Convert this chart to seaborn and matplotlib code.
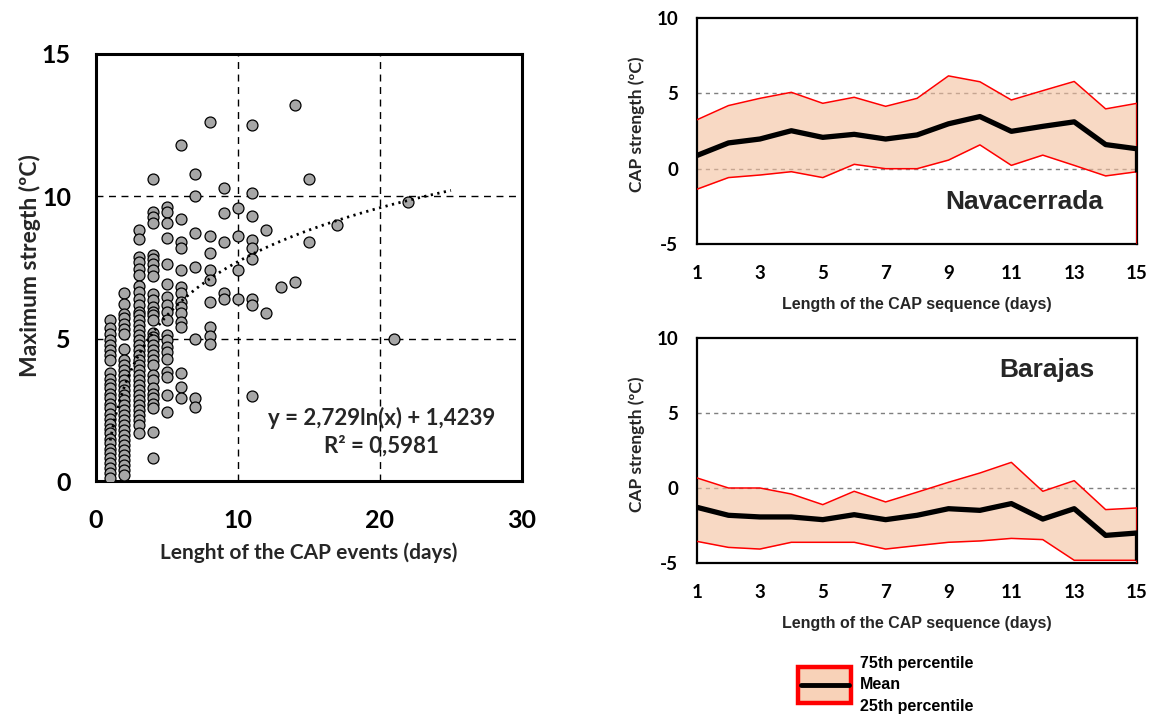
import numpy as np
import pandas as pd
import matplotlib
matplotlib.use("Agg")
import matplotlib.pyplot as plt
import seaborn as sns
from matplotlib.patches import Rectangle
from matplotlib.lines import Line2D

# ---------------- data ----------------
# Left panel: length of CAP events (days) and maximum strength (ºC)
event_lengths = [1, 2, 3, 4, 5, 6, 7, 8, 9, 10, 11, 12, 13, 14, 15, 17, 21, 22]
strength_d1 = [5.65, 5.36, 5.15, 4.95, 4.77, 4.6, 4.42, 4.25, 3.78, 3.6, 3.42, 3.25, 3.07, 2.9, 2.72,
               2.55, 2.37, 2.19, 2.02, 1.84, 1.67, 1.49, 1.32, 1.14, 0.97, 0.8, 0.62, 0.44, 0.27, 0.09]
strength_d2 = [6.61, 6.23, 5.88, 5.71, 5.53, 5.33, 5.18, 4.65, 4.25, 4.07, 3.89, 3.72, 3.54, 3.37, 3.19,
               3.02, 2.84, 2.67, 2.49, 2.32, 2.14, 1.96, 1.79, 1.61, 1.44, 1.26, 1.09, 0.91, 0.74, 0.56,
               0.39, 0.21]
strength_d3 = [8.83, 8.51, 7.87, 7.7, 7.46, 7.23, 6.85, 6.64, 6.41, 6.18, 5.94, 5.82, 5.65, 5.47, 5.3,
               5.12, 4.95, 4.77, 4.6, 4.42, 4.25, 4.07, 3.89, 3.72, 3.54, 3.37, 3.19, 3.02, 2.84, 2.67,
               2.49, 2.32, 2.14, 1.96, 1.67]
strength_d4 = [10.62, 9.45, 9.27, 9.06, 7.93, 7.81, 7.61, 7.4, 7.19, 6.56, 6.35, 6.12, 5.94, 5.82, 5.65,
               5.2, 5.07, 4.95, 4.77, 4.6, 4.42, 4.25, 4.07, 3.72, 3.54, 3.25, 3.07, 2.9, 2.72, 2.55,
               1.73, 0.82]
strength_d5 = [9.62, 9.45, 9.06, 8.54, 7.64, 6.91, 6.47, 6.18, 5.95, 5.65, 5.12, 4.95, 4.72, 4.54, 4.3,
               3.84, 3.66, 3.02, 2.43]
strength_d6 = [11.8, 9.2, 8.4, 8.2, 7.4, 6.8, 6.6, 6.3, 6.1, 5.9, 5.6, 5.4, 3.8, 3.3, 2.9]
strength_d7 = [10.8, 10.0, 8.7, 7.5, 5.0, 2.9, 2.6]
strength_d8 = [12.6, 8.6, 8.0, 7.4, 7.05, 6.3, 5.4, 5.1, 4.8]
strength_d9 = [10.3, 9.4, 8.4, 6.6, 6.4]
strength_d10 = [9.6, 8.6, 7.4, 6.4]
strength_d11 = [12.5, 10.1, 9.3, 8.45, 8.2, 7.8, 6.4, 6.2, 3.0]
strength_d12 = [8.8, 5.9]
strength_d13 = [6.8]
strength_d14 = [13.2, 7.0]
strength_d15 = [10.6, 8.4]
strength_d17 = [9.0]
strength_d21 = [5.0]
strength_d22 = [9.8]
strength_by_length = [strength_d1, strength_d2, strength_d3, strength_d4, strength_d5, strength_d6,
                      strength_d7, strength_d8, strength_d9, strength_d10, strength_d11, strength_d12,
                      strength_d13, strength_d14, strength_d15, strength_d17, strength_d21, strength_d22]

# logarithmic trend shown on the chart
trend_slope = 2.729
trend_intercept = 1.4239
trend_range = [1, 25]

# Right panels: CAP sequence statistics
days = list(range(1, 16))
nav_p75 = [3.25, 4.19, 4.67, 5.07, 4.34, 4.74, 4.14, 4.67, 6.16, 5.77, 4.56, 5.18, 5.79, 3.97, 4.34]
nav_mean = [0.88, 1.71, 1.97, 2.52, 2.08, 2.28, 1.97, 2.24, 2.98, 3.46, 2.48, 2.81, 3.11, 1.60, 1.32]
nav_p25 = [-1.36, -0.59, -0.42, -0.20, -0.59, 0.29, 0.0, 0.0, 0.57, 1.58, 0.22, 0.90, 0.22, -0.48, -0.20]
bar_p75 = [0.67, 0.0, 0.0, -0.40, -1.11, -0.22, -0.93, -0.28, 0.38, 1.0, 1.71, -0.22, 0.49, -1.44, -1.33]
bar_mean = [-1.29, -1.82, -1.93, -1.93, -2.11, -1.78, -2.11, -1.82, -1.38, -1.49, -1.04, -2.07, -1.38, -3.16, -3.0]
bar_p25 = [-3.56, -3.96, -4.07, -3.62, -3.62, -3.62, -4.07, -3.84, -3.62, -3.53, -3.36, -3.44, -4.82, -4.82, -4.82]

legend_labels = ["75th percentile", "Mean", "25th percentile"]

# ---------------- style ----------------
sns.set_theme(style="white")
plt.rcParams['font.family'] = ['Lato', 'DejaVu Sans']
plt.rcParams['axes.unicode_minus'] = False
ARIAL = ['Liberation Sans', 'DejaVu Sans']
BAND = '#F4C09E'

fig = plt.figure(figsize=(11.51, 7.16), dpi=100)

# ---------------- left scatter ----------------
ax0 = fig.add_axes([0.0834, 0.3282, 0.3701, 0.5964])
xs, ys = [], []
for L, vals in zip(event_lengths, strength_by_length):
    xs += [L] * len(vals)
    ys += vals
df = pd.DataFrame({'length': xs, 'strength': ys})
for v in (10, 20):
    ax0.axvline(v, color='black', lw=1.0, ls=(0, (5, 4)), zorder=1)
for v in (5, 10):
    ax0.axhline(v, color='black', lw=1.0, ls=(0, (5, 4)), zorder=1)
sns.scatterplot(data=df, x='length', y='strength', ax=ax0, s=62, color='#A6A6A6',
                edgecolor='black', linewidth=0.9, zorder=3, legend=False)
tx = np.linspace(trend_range[0], trend_range[1], 300)
ty = trend_slope * np.log(tx) + trend_intercept
sns.lineplot(x=tx, y=ty, ax=ax0, color='black', lw=2.0, linestyle=(0, (0.8, 1.6)),
             zorder=4, sort=False)
ax0.set_xlim(0, 30)
ax0.set_ylim(0, 15)
ax0.set_xticks([0, 10, 20, 30])
ax0.set_yticks([0, 5, 10, 15])
for s in ax0.spines.values():
    s.set_visible(True)
    s.set_color('black')
    s.set_linewidth(2.2)
ax0.tick_params(axis='y', direction='inout', length=12, width=2, labelsize=18, pad=12, colors='black')
ax0.tick_params(axis='x', direction='out', length=7, width=2, labelsize=18, pad=13, colors='black')
for lab in ax0.get_xticklabels() + ax0.get_yticklabels():
    lab.set_fontweight('bold')
ax0.set_xlabel('Lenght of the CAP events (days)', fontsize=15, fontweight='bold', labelpad=8)
ax0.set_ylabel('Maximum stregth (ºC)', fontsize=16.5, fontweight='bold')
ax0.yaxis.set_label_coords(-0.156, 0.505)
ax0.yaxis.label.set_va('center')
ax0.text(20.1, 2.2, 'y = 2,729ln(x) + 1,4239', ha='center', va='center', fontsize=16,
         fontweight='bold', zorder=5)
ax0.text(20.1, 1.23, 'R² = 0,5981', ha='center', va='center', fontsize=16,
         fontweight='bold', zorder=5)


# ---------------- right panels ----------------
def band_panel(ax, p75, mean, p25, title, tx_, ty_):
    for v in (5, 0):
        ax.axhline(v, color='#7F7F7F', lw=1.0, ls=(0, (3, 3)), zorder=1)
    ax.fill_between(days, p25, p75, color=BAND, alpha=0.6, lw=0, zorder=2)
    sns.lineplot(x=days, y=p75, ax=ax, color='red', lw=1.1, zorder=3)
    sns.lineplot(x=days, y=p25, ax=ax, color='red', lw=1.1, zorder=3)
    ax.vlines(days[-1], -5, p75[-1], color='red', lw=1.1, zorder=3)
    sns.lineplot(x=days, y=mean, ax=ax, color='black', lw=3.8, zorder=4)
    ax.vlines(days[-1], p25[-1], mean[-1], color='black', lw=3.8, zorder=4)
    ax.set_xlim(1, 15)
    ax.set_ylim(-5, 10)
    ax.set_xticks(list(range(1, 16, 2)))
    ax.set_yticks([-5, 0, 5, 10])
    for s in ax.spines.values():
        s.set_visible(True)
        s.set_color('black')
        s.set_linewidth(1.6)
    ax.tick_params(axis='y', direction='inout', length=9, width=1.6, labelsize=13.5, pad=9, colors='black')
    ax.tick_params(axis='x', direction='out', length=5, width=1.6, labelsize=13.5, pad=10, colors='black')
    for lab in ax.get_xticklabels() + ax.get_yticklabels():
        lab.set_fontweight('bold')
    ax.set_xlabel('Length of the CAP sequence (days)', fontsize=11.5, fontweight='bold',
                  family=ARIAL, labelpad=11)
    ax.set_ylabel('CAP strength (ºC)', fontsize=12.5, fontweight='bold')
    ax.yaxis.set_label_coords(-0.138, 0.53)
    ax.yaxis.label.set_va('center')
    ax.text(tx_, ty_, title, transform=ax.transAxes, ha='center', va='center',
            fontsize=19, fontweight='bold', family=ARIAL, zorder=6)


ax1 = fig.add_axes([0.6056, 0.6592, 0.3823, 0.3156])
band_panel(ax1, nav_p75, nav_mean, nav_p25, 'Navacerrada', 0.743, 0.186)
ax2 = fig.add_axes([0.6056, 0.2137, 0.3823, 0.3142])
band_panel(ax2, bar_p75, bar_mean, bar_p25, 'Barajas', 0.795, 0.858)

# ---------------- legend ----------------
fig.patches.append(Rectangle((0.6935, 0.0175), 0.0460, 0.0515, transform=fig.transFigure,
                             facecolor='#F8D2B8', edgecolor='red', lw=3.2, zorder=5))
fig.lines.append(Line2D([0.6955, 0.7375], [0.0433, 0.0433], transform=fig.transFigure,
                        color='black', lw=3.5, zorder=6))
for lab, yy in zip(legend_labels, [0.074, 0.0433, 0.0126]):
    fig.text(0.7472, yy, lab, ha='left', va='center', fontsize=11.5, fontweight='bold',
             family=ARIAL, color='black')

fig.savefig('out.png', dpi=100)
